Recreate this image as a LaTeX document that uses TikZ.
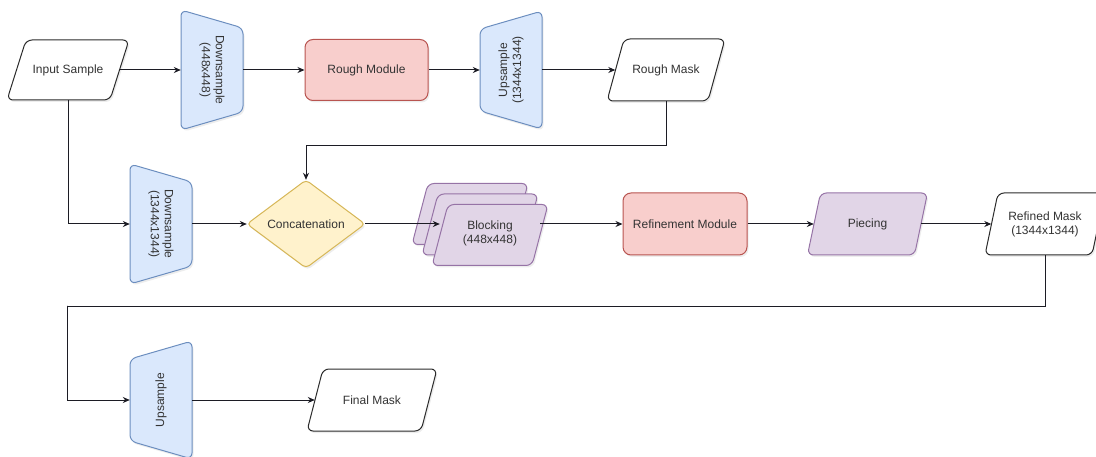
\documentclass[tikz,border=0pt]{standalone}
\usepackage{fontspec}
\setmainfont{Liberation Sans}
\usetikzlibrary{arrows.meta,shadows}

\definecolor{blueF}{HTML}{DAE8FC}\definecolor{blueD}{HTML}{6C8EBF}
\definecolor{pinkF}{HTML}{F8CECC}\definecolor{pinkD}{HTML}{B85450}
\definecolor{yellF}{HTML}{FFF2CC}\definecolor{yellD}{HTML}{D6B656}
\definecolor{purpF}{HTML}{E1D5E7}\definecolor{purpD}{HTML}{9673A6}
\definecolor{inkD}{HTML}{2B2B2B}
\definecolor{txtC}{HTML}{333333}
\definecolor{lineC}{HTML}{1C1C24}

% parallelogram: style, name, x, y, width, height, skew, text
\newcommand\ParaNode[8]{%
  \draw[#1, shift={(#3,#4)}] (-#5/2,#6/2) -- (-#5/2+#7,-#6/2) -- (#5/2,-#6/2) -- (#5/2-#7,#6/2) -- cycle;
  \node[txt, minimum width=#5-#7, minimum height=#6] (#2) at (#3,#4) {#8};
}
% trapezoid, long side on the left: style, name, x, y, text
\newcommand\TrapLeft[5]{%
  \draw[#1, shift={(#3,#4)}] (-31,-60) -- (31,-42) -- (31,42) -- (-31,60) -- cycle;
  \node[anchorbox, minimum width=62, minimum height=120] (#2) at (#3,#4) {};
  \node[txt, rotate=-90] (#2-t) at (#3,#4) {#5};
}
% trapezoid, long side on the right: style, name, x, y, text
\newcommand\TrapRight[5]{%
  \draw[#1, shift={(#3,#4)}] (-31,-41) -- (31,-59) -- (31,59) -- (-31,41) -- cycle;
  \node[anchorbox, minimum width=62, minimum height=118] (#2) at (#3,#4) {};
  \node[txt, rotate=90] (#2-t) at (#3,#4) {#5};
}

\begin{document}
\begin{tikzpicture}[x=1pt, y=-1pt,
  shp/.style={line width=1pt, rounded corners=6pt,
    drop shadow={shadow xshift=1.5pt, shadow yshift=-2pt, opacity=0.14}},
  blueS/.style={shp, draw=blueD, fill=blueF},
  pinkS/.style={shp, draw=pinkD, fill=pinkF},
  yellS/.style={shp, draw=yellD, fill=yellF, rounded corners=4pt},
  purpS/.style={shp, draw=purpD, fill=purpF},
  whiteS/.style={shp, draw=inkD, fill=white},
  txt/.style={inner sep=0pt, text=txtC, font=\fontsize{12}{14}\selectfont, align=center},
  anchorbox/.style={inner sep=0pt, draw=none},
  modbox/.style={pinkS, rounded corners=8pt, minimum width=123, minimum height=61,
    inner sep=0pt, text=txtC, font=\fontsize{12}{14}\selectfont},
  conn/.style={draw=lineC, line width=1pt, -{Stealth[length=7pt,width=6pt]}}
]
\useasboundingbox (0,0) rectangle (1096,457);
\clip (0,0) rectangle (1096,457);

% top row
\ParaNode{whiteS}{input}{68}{70}{122}{60}{19}{Input Sample}
\TrapLeft{blueS}{ds1}{212}{70}{Downsample\\(448x448)}
\node[modbox] (rough) at (366.5,70) {Rough Module};
\TrapRight{blueS}{us1}{511}{70}{Upsample\\(1344x1344)}
\ParaNode{whiteS}{rmask}{666}{70}{118}{62}{17}{Rough Mask}

% middle row
\TrapLeft{blueS}{ds2}{161}{224}{Downsample\\(1344x1344)}
\draw[yellS] (247,224) -- (306,180) -- (365,224) -- (306,268) -- cycle;
\node[txt, minimum width=118, minimum height=88] (concat) at (306,224) {Concatenation};
\ParaNode{purpS}{blk3}{470}{214}{116}{61}{16}{}
\ParaNode{purpS}{blk2}{480}{224.5}{116}{61}{16}{}
\ParaNode{purpS}{blk}{490}{235}{116}{61}{16}{}
\node[txt] (blk-t) at (490,233) {Blocking\\(448x448)};
\node[modbox, minimum width=124, minimum height=62] (refine) at (685,224) {Refinement Module};
\ParaNode{purpS}{piece}{867.5}{224}{120}{62}{13}{Piecing}
\ParaNode{whiteS}{refined}{1045}{224}{120}{62}{13}{Refined Mask\\(1344x1344)}

% bottom row
\TrapRight{blueS}{us2}{161}{400}{Upsample}
\ParaNode{whiteS}{fmask}{372}{400}{130}{62}{16}{Final Mask}

% connectors
\draw[conn] (input.east) -- (ds1.west);
\draw[conn] (ds1.east) -- (rough.west);
\draw[conn] (rough.east) -- (us1.west);
\draw[conn] (us1.east) -- (rmask.west);
\draw[conn] (rmask.south) -- ++(0,44) -| (concat.north);
\draw[conn] (input.south) |- (ds2.west);
\draw[conn] (ds2.east) -- (concat.west);
\draw[conn] (concat.east) -- (concat.east -| blk.west);
\draw[conn] (blk.east |- refine.west) -- (refine.west);
\draw[conn] (refine.east) -- (piece.west);
\draw[conn] (piece.east) -- (refined.west);
\draw[conn] (refined.south) -- ++(0,51) -| ([xshift=-62pt]us2.west |- 0,306) -- ([xshift=-62pt]us2.west) -- (us2.west);
\draw[conn] (us2.east) -- (fmask.west);
\end{tikzpicture}
\end{document}
